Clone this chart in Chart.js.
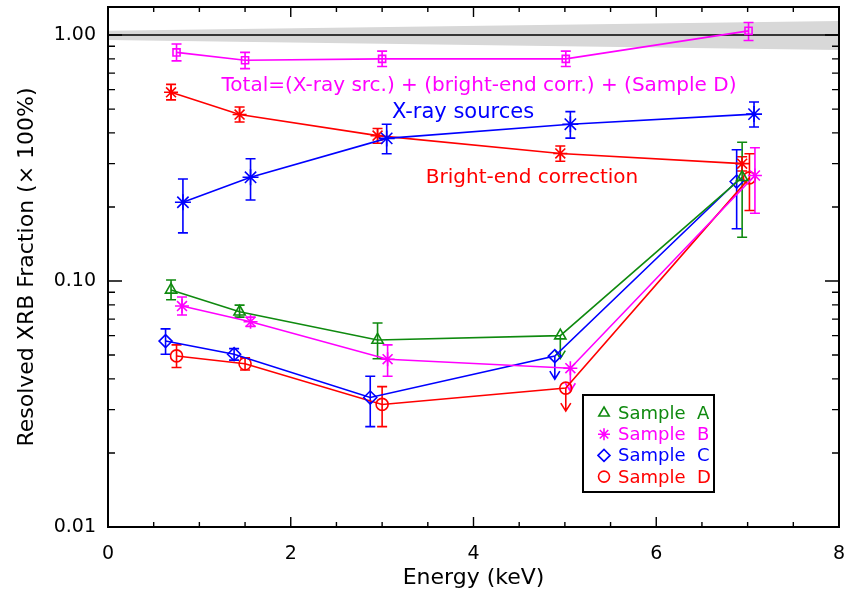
<!DOCTYPE html>
<html>
<head>
<meta charset="utf-8">
<title>Resolved XRB Fraction</title>
<script src="https://cdn.jsdelivr.net/npm/chart.js@4.4.1/dist/chart.umd.min.js"></script>
<style>
    html, body { margin: 0; padding: 0; background: #ffffff; }
    #wrap { width: 844px; height: 597px; }
</style>
</head>
<body>
<div id="wrap"><canvas id="xrbChart" width="844" height="597"></canvas></div>
<script>
// ---- data (energy in keV, fraction of the XRB) ----
const bandEnergy = [0, 8];
const bandLow = [0.955, 0.87];
const bandHigh = [1.04, 1.14];
const unityEnergy = [0, 8];
const unityLevel = [1, 1];

// Total = (X-ray src.) + (bright-end corr.) + (Sample D)
const totalEnergy = [0.75, 1.50, 3.00, 5.01, 7.01];
const totalFrac = [0.85, 0.79, 0.80, 0.80, 1.04];
const totalLow = [0.785, 0.73, 0.745, 0.745, 0.95];
const totalHigh = [0.92, 0.85, 0.86, 0.86, 1.125];

// X-ray sources
const srcEnergy = [0.82, 1.56, 3.05, 5.06, 7.07];
const srcFrac = [0.209, 0.264, 0.38, 0.434, 0.477];
const srcLow = [0.157, 0.2135, 0.329, 0.381, 0.423];
const srcHigh = [0.26, 0.314, 0.434, 0.488, 0.534];

// Bright-end correction
const brightEnergy = [0.69, 1.44, 2.95, 4.95, 6.94];
const brightFrac = [0.585, 0.475, 0.39, 0.33, 0.30];
const brightLow = [0.545, 0.443, 0.363, 0.307, 0.28];
const brightHigh = [0.63, 0.51, 0.417, 0.354, 0.32];

// Samples A-D (null = upper limit, drawn as a down arrow)
const sampleAEnergy = [0.69, 1.44, 2.95, 4.95, 6.94];
const sampleAFrac = [0.092, 0.075, 0.0576, 0.060, 0.264];
const sampleALow = [0.0839, 0.0713, 0.0483, null, 0.1507];
const sampleAHigh = [0.1009, 0.0798, 0.0675, null, 0.3667];

const sampleBEnergy = [0.81, 1.56, 3.06, 5.06, 7.08];
const sampleBFrac = [0.0791, 0.0683, 0.0481, 0.0442, 0.2685];
const sampleBLow = [0.0728, 0.0654, 0.041, null, 0.1887];
const sampleBHigh = [0.0861, 0.0713, 0.055, null, 0.348];

const sampleCEnergy = [0.63, 1.38, 2.87, 4.89, 6.88];
const sampleCFrac = [0.057, 0.0504, 0.0336, 0.0495, 0.2538];
const sampleCLow = [0.0504, 0.0477, 0.0256, null, 0.163];
const sampleCHigh = [0.0639, 0.0531, 0.041, null, 0.3415];

const sampleDEnergy = [0.75, 1.50, 3.00, 5.01, 7.02];
const sampleDFrac = [0.0496, 0.0461, 0.0315, 0.0367, 0.2626];
const sampleDLow = [0.0445, 0.0435, 0.0256, null, 0.1935];
const sampleDHigh = [0.055, 0.0487, 0.0372, null, 0.329];

const yTickValues = [0.01, 0.1, 1];
const xTickValues = [0, 2, 4, 6, 8];

const GREEN = '#0f8a0f', MAGENTA = '#ff00ff', BLUE = '#0000ff', RED = '#ff0000';
const FONT = "'DejaVu Sans', sans-serif";

function pts(xs, ys) {
    return xs.map((x, i) => ({ x: x, y: ys[i] }));
}

function series(label, xs, ys, color, style, radius) {
    return {
        label: label,
        data: pts(xs, ys),
        borderColor: color,
        backgroundColor: 'rgba(0,0,0,0)',
        borderWidth: 1.6,
        pointStyle: style,
        pointRadius: radius,
        pointBorderColor: color,
        pointBackgroundColor: 'rgba(0,0,0,0)',
        pointBorderWidth: 1.6,
        fill: false,
        tension: 0
    };
}

// error bar sets: bounds per point, cap half width
const errorSets = [
    { xs: totalEnergy, ys: totalFrac, lo: totalLow, hi: totalHigh, color: MAGENTA, cap: 5 },
    { xs: srcEnergy, ys: srcFrac, lo: srcLow, hi: srcHigh, color: BLUE, cap: 5 },
    { xs: brightEnergy, ys: brightFrac, lo: brightLow, hi: brightHigh, color: RED, cap: 5 },
    { xs: sampleAEnergy, ys: sampleAFrac, lo: sampleALow, hi: sampleAHigh, color: GREEN, cap: 5 },
    { xs: sampleBEnergy, ys: sampleBFrac, lo: sampleBLow, hi: sampleBHigh, color: MAGENTA, cap: 5 },
    { xs: sampleCEnergy, ys: sampleCFrac, lo: sampleCLow, hi: sampleCHigh, color: BLUE, cap: 5 },
    { xs: sampleDEnergy, ys: sampleDFrac, lo: sampleDLow, hi: sampleDHigh, color: RED, cap: 5 }
];

const errorBarPlugin = {
    id: 'errorBars',
    beforeDatasetsDraw(chart) {
        const ctx = chart.ctx;
        const xs = chart.scales.x, ys = chart.scales.y;
        ctx.save();
        ctx.lineWidth = 1.6;
        errorSets.forEach(set => {
            ctx.strokeStyle = set.color;
            set.xs.forEach((e, i) => {
                const px = xs.getPixelForValue(e);
                const py = ys.getPixelForValue(set.ys[i]);
                ctx.beginPath();
                if (set.lo[i] === null) {
                    // upper limit arrow
                    const tip = py + 23;
                    ctx.moveTo(px, py);
                    ctx.lineTo(px, tip);
                    ctx.moveTo(px - 5, tip - 8);
                    ctx.lineTo(px, tip);
                    ctx.lineTo(px + 5, tip - 8);
                } else {
                    const yl = ys.getPixelForValue(set.lo[i]);
                    const yh = ys.getPixelForValue(set.hi[i]);
                    ctx.moveTo(px, yl); ctx.lineTo(px, yh);
                    ctx.moveTo(px - set.cap, yl); ctx.lineTo(px + set.cap, yl);
                    ctx.moveTo(px - set.cap, yh); ctx.lineTo(px + set.cap, yh);
                }
                ctx.stroke();
            });
        });
        ctx.restore();
    }
};

// frame with inward tick marks on all four sides
const framePlugin = {
    id: 'frame',
    afterDraw(chart) {
        const ctx = chart.ctx;
        const a = chart.chartArea;
        const xs = chart.scales.x, ys = chart.scales.y;
        ctx.save();
        ctx.strokeStyle = '#000';
        ctx.lineWidth = 2;
        ctx.strokeRect(a.left, a.top, a.right - a.left, a.bottom - a.top);
        ctx.lineWidth = 1.4;
        ctx.beginPath();
        for (let v = 0; v <= 8.001; v += 0.5) {
            const px = xs.getPixelForValue(v);
            const len = (Math.abs(v / 2 - Math.round(v / 2)) < 1e-6) ? 10 : 5;
            ctx.moveTo(px, a.bottom); ctx.lineTo(px, a.bottom - len);
            ctx.moveTo(px, a.top); ctx.lineTo(px, a.top + len);
        }
        for (let d = 0.01; d < 2; d *= 10) {
            for (let k = 1; k <= 9; k++) {
                const v = d * k;
                if (v > ys.max) break;
                const py = ys.getPixelForValue(v);
                const len = k === 1 ? 14 : 7;
                ctx.moveTo(a.left, py); ctx.lineTo(a.left + len, py);
                ctx.moveTo(a.right, py); ctx.lineTo(a.right - len, py);
            }
        }
        ctx.stroke();
        ctx.restore();
    }
};

// text labels and legend box
const labelPlugin = {
    id: 'labels',
    afterDraw(chart) {
        const ctx = chart.ctx;
        ctx.save();
        ctx.textBaseline = 'alphabetic';
        ctx.textAlign = 'center';
        ctx.font = '20px ' + FONT;
        ctx.fillStyle = MAGENTA;
        ctx.fillText('Total=(X-ray src.) + (bright-end corr.) + (Sample D)', 479, 91);
        ctx.font = '21px ' + FONT;
        ctx.fillStyle = BLUE;
        ctx.fillText('X-ray sources', 463, 118);
        ctx.font = '20px ' + FONT;
        ctx.fillStyle = RED;
        ctx.fillText('Bright-end correction', 532, 183);

        // legend
        ctx.strokeStyle = '#000';
        ctx.lineWidth = 2;
        ctx.strokeRect(583, 395, 131, 97);
        const entries = [
            { text: 'Sample  A', color: GREEN, style: 'triangle', r: 6 },
            { text: 'Sample  B', color: MAGENTA, style: 'star', r: 6 },
            { text: 'Sample  C', color: BLUE, style: 'rectRot', r: 6 },
            { text: 'Sample  D', color: RED, style: 'circle', r: 5.5 }
        ];
        ctx.textAlign = 'left';
        ctx.font = '18px ' + FONT;
        entries.forEach((en, i) => {
            const base = 419 + i * 21.2;
            ctx.fillStyle = en.color;
            ctx.fillText(en.text, 618, base);
            ctx.strokeStyle = en.color;
            ctx.fillStyle = 'rgba(0,0,0,0)';
            ctx.lineWidth = 1.6;
            Chart.helpers.drawPoint(ctx, { pointStyle: en.style, radius: en.r, rotation: 0, borderWidth: 1.6 }, 604, base - 6);
        });
        ctx.restore();
    }
};

Chart.defaults.font.family = FONT;
Chart.defaults.color = '#000';

const ctx = document.getElementById('xrbChart').getContext('2d');
const datasets = [
    series('Sample A', sampleAEnergy, sampleAFrac, GREEN, 'triangle', 6.5),
    series('Sample B', sampleBEnergy, sampleBFrac, MAGENTA, 'star', 7),
    series('Sample C', sampleCEnergy, sampleCFrac, BLUE, 'rectRot', 6.5),
    series('Sample D', sampleDEnergy, sampleDFrac, RED, 'circle', 6),
    series('X-ray sources', srcEnergy, srcFrac, BLUE, 'star', 8),
    series('Bright-end correction', brightEnergy, brightFrac, RED, 'star', 7),
    series('Total', totalEnergy, totalFrac, MAGENTA, 'rect', 5),
    {
        label: 'unity',
        data: pts(unityEnergy, unityLevel),
        borderColor: '#000',
        borderWidth: 1.6,
        pointRadius: 0,
        fill: false
    },
    {
        label: 'band high',
        data: pts(bandEnergy, bandHigh),
        borderWidth: 0,
        borderColor: 'rgba(0,0,0,0)',
        backgroundColor: '#d8d8d8',
        pointRadius: 0,
        fill: '+1'
    },
    {
        label: 'band low',
        data: pts(bandEnergy, bandLow),
        borderWidth: 0,
        borderColor: 'rgba(0,0,0,0)',
        pointRadius: 0,
        fill: false
    }
];

new Chart(ctx, {
    type: 'line',
    data: { datasets: datasets },
    options: {
        responsive: false,
        animation: false,
        layout: { autoPadding: false, padding: { left: 0, top: 7, right: 5, bottom: 0 } },
        plugins: {
            legend: { display: false },
            tooltip: { enabled: false },
            filler: { drawTime: 'beforeDatasetsDraw' }
        },
        scales: {
            x: {
                type: 'linear',
                min: 0,
                max: 8,
                afterBuildTicks: axis => { axis.ticks = xTickValues.map(v => ({ value: v })); },
                afterFit: scale => {
                    scale.height = 70;
                    scale.paddingLeft = 0;
                    scale.paddingRight = 0;
                },
                grid: { display: false, drawTicks: false },
                border: { display: false },
                ticks: { font: { size: 19 }, padding: 16, callback: v => String(v), maxRotation: 0 },
                title: { display: true, text: 'Energy (keV)', font: { size: 22 }, padding: { top: 0, bottom: 6 } }
            },
            y: {
                type: 'logarithmic',
                min: 0.01,
                max: 1.3,
                afterBuildTicks: axis => { axis.ticks = yTickValues.map(v => ({ value: v })); },
                afterFit: scale => {
                    scale.width = 108;
                    scale.paddingTop = 0;
                    scale.paddingBottom = 0;
                },
                grid: { display: false, drawTicks: false },
                border: { display: false },
                ticks: { font: { size: 19 }, padding: 12, callback: v => Number(v).toFixed(2) },
                title: { display: true, text: 'Resolved XRB Fraction (\u00d7 100%)', font: { size: 22 }, padding: { top: 14, bottom: 0 } }
            }
        }
    },
    plugins: [errorBarPlugin, framePlugin, labelPlugin]
});
</script>
</body>
</html>
